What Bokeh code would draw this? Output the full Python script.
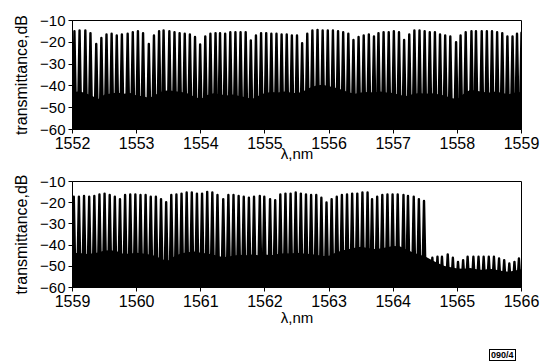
from bokeh.plotting import figure
from bokeh.models import FixedTicker, Range1d, Div
from bokeh.layouts import column
from bokeh.embed import file_html
from bokeh.resources import INLINE

# ---------------- data ----------------
y_ticks = [-60, -50, -40, -30, -20, -10]
top_x_ticks = [1552, 1553, 1554, 1555, 1556, 1557, 1558, 1559]
bot_x_ticks = [1559, 1560, 1561, 1562, 1563, 1564, 1565, 1566]

# channel peaks, upper panel (nm, dB)
top_peak_nm = [
    1552.03, 1552.11, 1552.20, 1552.28, 1552.37, 1552.45, 1552.53, 1552.61, 1552.69, 1552.77,
    1552.86, 1552.94, 1553.02, 1553.10, 1553.19, 1553.27, 1553.35, 1553.42, 1553.51, 1553.59,
    1553.67, 1553.75, 1553.83, 1553.91, 1553.99, 1554.07, 1554.15, 1554.23, 1554.30,
    1554.38, 1554.46, 1554.54, 1554.62, 1554.70, 1554.78, 1554.86, 1554.94, 1555.02, 1555.10,
    1555.18, 1555.26, 1555.34, 1555.42, 1555.50, 1555.58, 1555.66, 1555.74, 1555.82, 1555.90,
    1555.98, 1556.06, 1556.14, 1556.22, 1556.30, 1556.38, 1556.46, 1556.54, 1556.62,
    1556.70, 1556.77, 1556.85, 1556.93, 1557.01, 1557.09, 1557.17, 1557.25, 1557.33, 1557.41,
    1557.49, 1557.57, 1557.65, 1557.73, 1557.81, 1557.89, 1557.98, 1558.05, 1558.13, 1558.22,
    1558.29, 1558.38, 1558.46, 1558.54, 1558.62, 1558.70, 1558.78, 1558.86, 1558.93, 1559.00,
]
top_peak_db = [
    -14.9, -14.6, -14.6, -15.8, -20.8, -18.0, -16.4, -16.1, -16.9, -16.4,
    -16.1, -15.4, -14.9, -15.8, -20.8, -16.9, -14.9, -14.6, -14.9, -15.4,
    -15.8, -16.1, -16.4, -17.6, -21.0, -17.3, -16.1, -15.8, -15.8,
    -16.1, -15.4, -15.4, -15.4, -15.4, -19.2, -16.9, -15.8, -15.8, -16.1,
    -16.1, -16.4, -16.4, -16.9, -16.9, -20.4, -16.1, -14.6, -14.3, -14.6,
    -14.6, -14.6, -14.9, -15.4, -16.1, -18.9, -17.6, -16.9, -16.4,
    -17.3, -15.8, -15.4, -15.4, -14.9, -15.4, -18.9, -16.4, -14.6, -14.6,
    -14.9, -15.4, -15.4, -16.4, -16.9, -17.3, -19.9, -16.9, -15.4, -14.9,
    -14.9, -14.9, -14.9, -14.9, -15.4, -15.8, -17.3, -17.3, -16.1, -15.6,
]
# top of the dense noise floor, upper panel
top_floor_nm = [
    1552.0, 1552.1, 1552.2, 1552.3, 1552.4, 1552.5, 1552.6, 1552.7, 1552.8, 1552.9,
    1553.0, 1553.1, 1553.2, 1553.3, 1553.4, 1553.5, 1553.6, 1553.7, 1553.8, 1553.9,
    1554.0, 1554.1, 1554.2, 1554.3, 1554.4, 1554.5, 1554.6, 1554.7, 1554.8, 1554.9,
    1555.0, 1555.1, 1555.2, 1555.3, 1555.4, 1555.5, 1555.6, 1555.7, 1555.8, 1555.9,
    1556.0, 1556.1, 1556.2, 1556.3, 1556.4, 1556.5, 1556.6, 1556.7, 1556.8, 1556.9,
    1557.0, 1557.1, 1557.2, 1557.3, 1557.4, 1557.5, 1557.6, 1557.7, 1557.8, 1557.9,
    1558.0, 1558.1, 1558.2, 1558.3, 1558.4, 1558.5, 1558.6, 1558.7, 1558.8, 1558.9,
    1559.0,
]
top_floor_db = [
    -43.0, -42.5, -43.2, -44.5, -46.0, -44.0, -43.5, -43.0, -43.6, -43.2,
    -44.4, -44.8, -45.5, -44.0, -42.5, -42.0, -42.4, -42.8, -43.5, -45.0,
    -46.0, -44.2, -43.4, -43.8, -44.4, -44.0, -44.6, -45.2, -46.0, -44.5,
    -43.2, -42.8, -43.0, -42.6, -43.0, -43.4, -42.5, -40.8, -39.8, -39.5,
    -40.2, -40.8, -41.8, -42.9, -43.6, -43.0, -42.8, -43.0, -42.6, -43.0,
    -43.2, -44.2, -44.6, -43.8, -43.2, -43.6, -43.4, -43.8, -44.4, -45.5,
    -46.0, -43.6, -41.8, -42.2, -42.8, -43.0, -42.6, -43.2, -43.8, -43.0,
    -42.8,
]

# channel peaks, lower panel (nm, dB)
bot_peak_nm = [
    1559.02, 1559.10, 1559.18, 1559.26, 1559.34, 1559.42, 1559.50, 1559.58, 1559.66, 1559.74,
    1559.82, 1559.90, 1559.98, 1560.06, 1560.14, 1560.22, 1560.30, 1560.38, 1560.46, 1560.54,
    1560.62, 1560.70, 1560.78, 1560.86, 1560.94, 1561.02, 1561.10, 1561.18, 1561.26,
    1561.35, 1561.43, 1561.51, 1561.59, 1561.67, 1561.75, 1561.83, 1561.92, 1561.99, 1562.08,
    1562.16, 1562.24, 1562.32, 1562.40, 1562.48, 1562.56, 1562.64, 1562.72, 1562.80, 1562.88,
    1562.96, 1563.04, 1563.12, 1563.20, 1563.28, 1563.36, 1563.44, 1563.52, 1563.60,
    1563.67, 1563.75, 1563.83, 1563.91, 1563.99, 1564.07, 1564.16, 1564.23, 1564.32, 1564.40,
    1564.48,
    1564.61, 1564.69, 1564.76, 1564.85, 1564.93, 1565.01, 1565.09, 1565.16, 1565.25, 1565.33,
    1565.41, 1565.49, 1565.57, 1565.65, 1565.73, 1565.81, 1565.89, 1565.96,
]
bot_peak_db = [
    -17.2, -17.2, -16.8, -17.2, -16.8, -16.1, -15.7, -16.4, -17.2, -18.3,
    -16.4, -16.1, -16.1, -16.4, -16.4, -17.2, -17.2, -18.3, -19.8, -16.4,
    -16.1, -15.7, -15.2, -15.2, -15.7, -15.7, -14.9, -15.2, -16.4,
    -18.3, -16.4, -16.4, -16.8, -17.2, -17.7, -17.2, -16.8, -17.2, -18.3,
    -18.8, -16.1, -15.7, -15.7, -15.2, -15.7, -16.1, -16.4, -16.4, -17.7,
    -19.9, -18.3, -17.2, -16.4, -16.1, -15.7, -15.7, -15.2, -15.2,
    -18.3, -17.2, -16.4, -16.1, -16.1, -16.1, -16.4, -16.8, -17.2, -18.3,
    -19.2,
    -46.0, -45.5, -45.5, -44.4, -46.0, -47.9, -47.1, -45.5, -45.5, -45.5,
    -45.5, -45.5, -45.5, -46.3, -47.1, -48.7, -47.9, -46.3,
]
bot_floor_nm = [
    1559.0, 1559.1, 1559.2, 1559.3, 1559.4, 1559.5, 1559.6, 1559.7, 1559.8, 1559.9,
    1560.0, 1560.1, 1560.2, 1560.3, 1560.4, 1560.5, 1560.6, 1560.7, 1560.8, 1560.9,
    1561.0, 1561.1, 1561.2, 1561.3, 1561.4, 1561.5, 1561.6, 1561.7, 1561.8, 1561.9,
    1562.0, 1562.1, 1562.2, 1562.3, 1562.4, 1562.5, 1562.6, 1562.7, 1562.8, 1562.9,
    1563.0, 1563.1, 1563.2, 1563.3, 1563.4, 1563.5, 1563.6, 1563.7, 1563.8, 1563.9,
    1564.0, 1564.1, 1564.2, 1564.3, 1564.4, 1564.5, 1564.6, 1564.7, 1564.8, 1564.9,
    1565.0, 1565.1, 1565.2, 1565.3, 1565.4, 1565.5, 1565.6, 1565.7, 1565.8, 1565.9,
    1566.0,
]
bot_floor_db = [
    -44.0, -43.6, -44.2, -44.0, -43.5, -42.6, -42.4, -43.0, -44.2, -44.0,
    -43.6, -44.0, -44.4, -45.2, -46.8, -47.2, -45.0, -43.8, -43.4, -43.0,
    -43.6, -44.0, -44.6, -45.4, -45.6, -45.0, -44.6, -44.8, -44.4, -44.8,
    -44.4, -44.8, -44.2, -43.8, -44.0, -43.6, -44.0, -44.2, -44.6, -45.2,
    -45.0, -43.6, -42.6, -42.0, -41.2, -40.8, -41.4, -41.8, -41.6, -41.0,
    -40.4, -40.6, -42.0, -43.4, -44.4, -45.4, -47.0, -48.6, -49.8, -50.4,
    -51.0, -51.2, -50.8, -51.4, -51.8, -51.2, -51.6, -52.2, -52.6, -52.0,
    -51.4,
]
figure_code = "090/4"

# ---------------- styling ----------------
FONT = "Liberation Sans"
Y_MIN, Y_MAX = -60, -10
HALF = 0.027  # half base width of a drawn channel spike, nm


def make_panel(x_lo, x_hi, pk_nm, pk_db, fl_nm, fl_db, xticks, height,
               b_top, b_bottom, xlab_standoff):
    p = figure(width=547, height=height, output_backend="svg", toolbar_location=None,
               x_range=Range1d(x_lo, x_hi), y_range=Range1d(Y_MIN, Y_MAX),
               min_border_left=72, min_border_right=26,
               min_border_top=b_top, min_border_bottom=b_bottom)
    p.grid.visible = False
    p.background_fill_color = "white"
    p.border_fill_color = "white"
    p.outline_line_color = "black"
    p.outline_line_width = 1
    p.outline_line_alpha = 1

    # dense noise floor
    p.varea(x=fl_nm, y1=[Y_MIN] * len(fl_nm), y2=fl_db, fill_color="black")
    # channel spikes
    xs = [[x - HALF, x, x + HALF] for x in pk_nm]
    ys = [[Y_MIN, d, Y_MIN] for d in pk_db]
    p.patches(xs, ys, fill_color="black", line_color="black",
              line_width=2.4, line_join="round")

    for ax in (p.xaxis[0], p.yaxis[0]):
        ax.axis_line_color = "black"
        ax.major_tick_line_color = "black"
        ax.major_tick_out = 4
        ax.major_tick_in = 0
        ax.minor_tick_line_color = None
        ax.major_label_text_font = FONT
        ax.major_label_text_color = "black"
        ax.major_label_standoff = 3
        ax.axis_label_text_font = FONT
        ax.axis_label_text_font_style = "normal"
        ax.axis_label_text_color = "black"
    p.xaxis.ticker = FixedTicker(ticks=xticks)
    p.yaxis.ticker = FixedTicker(ticks=y_ticks)
    p.xaxis.major_label_text_font_size = "16px"
    p.yaxis.major_label_text_font_size = "15px"
    p.xaxis.axis_label = "λ,nm"
    p.xaxis.axis_label_text_font_size = "15px"
    p.xaxis.axis_label_standoff = xlab_standoff
    p.yaxis.axis_label = "transmittance,dB"
    p.yaxis.axis_label_text_font_size = "16px"
    p.yaxis.axis_label_standoff = 7
    return p


p1 = make_panel(1552, 1559, top_peak_nm, top_peak_db, top_floor_nm, top_floor_db,
                top_x_ticks, 169, 20, 40, -7)
p2 = make_panel(1559, 1566, bot_peak_nm, bot_peak_db, bot_floor_nm, bot_floor_db,
                bot_x_ticks, 166, 12, 48, -1)
tag = Div(
    text=('<span style="border:1px solid black;padding:0 1px;font-family:\'Liberation Sans\';'
          'font-size:9px;font-weight:bold;line-height:9px;color:black;">' + figure_code + '</span>'),
    width=40, height=14, margin=(11, 0, 0, 489),
)

layout = column(p1, p2, tag, spacing=0)
open("out.html", "w").write(file_html(layout, INLINE))
